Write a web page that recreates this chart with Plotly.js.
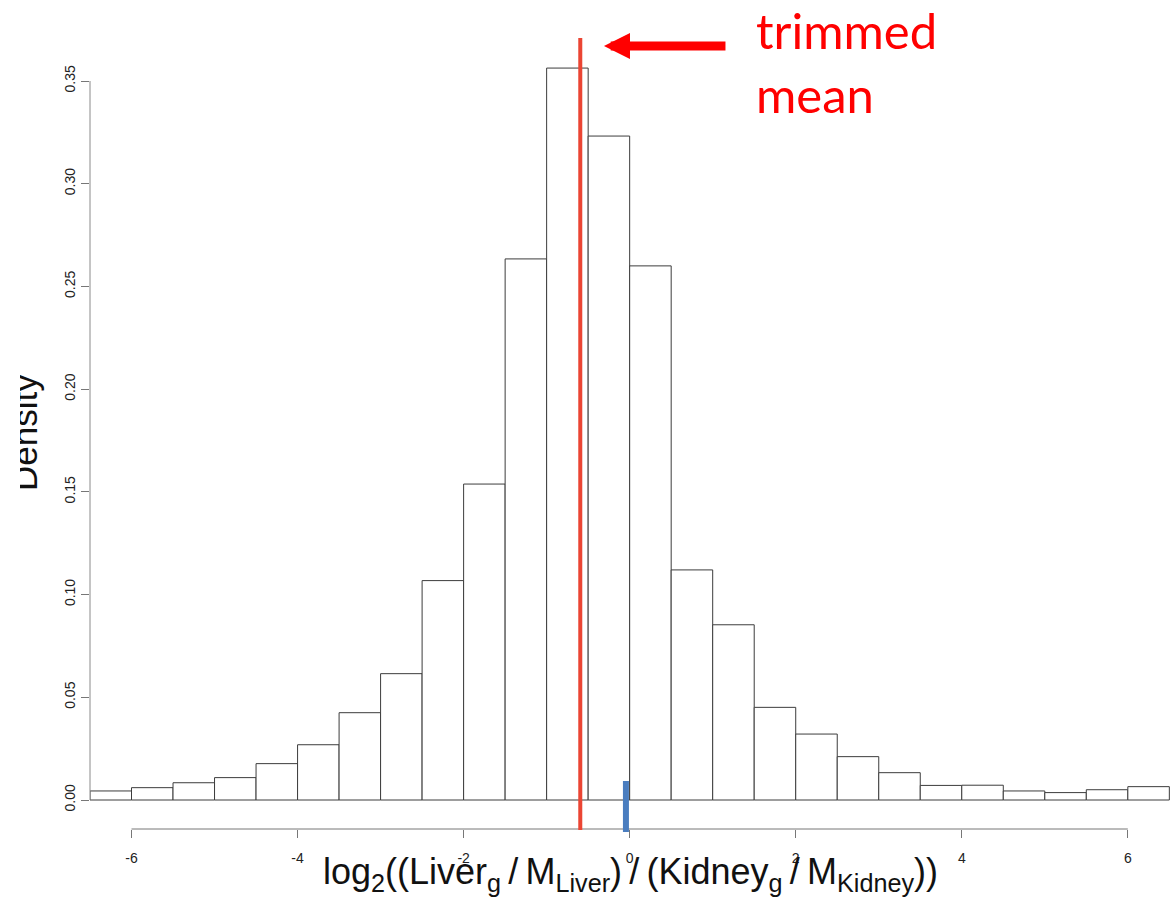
<!DOCTYPE html>
<html>
<head>
<meta charset="utf-8">
<script src="https://cdn.plot.ly/plotly-3.0.1.min.js"></script>
<style>
  html, body { margin: 0; padding: 0; background: #ffffff; }
  #wrap { position: absolute; left: 20px; top: 0; width: 1156px; height: 897px; overflow: hidden; }
  #chart { width: 1156px; height: 897px; }
</style>
</head>
<body>
<div id="wrap"><div id="chart"></div></div>
<script>
// Histogram bins (width 0.5), centers and density values
const binCenters = [-6.25, -5.75, -5.25, -4.75, -4.25, -3.75, -3.25, -2.75, -2.25, -1.75, -1.25, -0.75, -0.25,
                    0.25, 0.75, 1.25, 1.75, 2.25, 2.75, 3.25, 3.75, 4.25, 4.75, 5.25, 5.75, 6.25];
const density = [0.0044, 0.0060, 0.0084, 0.0109, 0.0177, 0.0269, 0.0425, 0.0615, 0.1068, 0.1538, 0.2634, 0.3563, 0.3232,
                 0.2600, 0.1120, 0.0853, 0.0451, 0.0321, 0.0211, 0.0133, 0.0071, 0.0072, 0.0044, 0.0036, 0.0050, 0.0065];
const binWidth = 0.5;

const xTickVals = [-6, -4, -2, 0, 2, 4, 6];
const xTickText = ['-6', '-4', '-2', '0', '2', '4', '6'];
const yTickVals = [0, 0.05, 0.10, 0.15, 0.20, 0.25, 0.30, 0.35];
const yTickText = ['0.00', '0.05', '0.10', '0.15', '0.20', '0.25', '0.30', '0.35'];

const trimmedMean = -0.595;   // red vertical line
const zeroMarker = -0.045;    // small blue marker near 0
const xAxisExtent = [-6, 6];
const yAxisExtent = [0, 0.35];

const font = 'Liberation Sans, Arial, Helvetica, sans-serif';
const thin = '\u2009';

const trace = {
  type: 'bar',
  x: binCenters,
  y: density,
  width: binWidth,
  marker: { color: '#ffffff', line: { color: '#3c3c3c', width: 1 } },
  hoverinfo: 'x+y',
  showlegend: false
};

const layout = {
  width: 1156,
  height: 897,
  margin: { l: 70, r: 5, t: 30, b: 68 },
  paper_bgcolor: '#ffffff',
  plot_bgcolor: '#ffffff',
  bargap: 0,
  showlegend: false,
  xaxis: {
    range: [-6.5, 6.52],
    showgrid: false, zeroline: false, showline: false,
    tickmode: 'array', tickvals: xTickVals, ticktext: xTickText,
    ticks: 'outside', ticklen: 8, tickwidth: 1, tickcolor: '#777777',
    ticklabelstandoff: 8,
    tickfont: { family: font, size: 14, color: '#222222' },
    title: {
      text: 'log<sub>2</sub>((Liver<sub>g</sub>' + thin + '/' + thin + 'M<sub>Liver</sub>)' + thin + '/' + thin +
            '(Kidney<sub>g</sub>' + thin + '/' + thin + 'M<sub>Kidney</sub>))',
      font: { family: font, size: 36, color: '#111111' },
      standoff: 7
    }
  },
  yaxis: {
    range: [-0.014117, 0.37483],
    showgrid: false, zeroline: false, showline: false,
    tickmode: 'array', tickvals: yTickVals, ticktext: yTickText,
    ticks: 'outside', ticklen: 8, tickwidth: 1, tickcolor: '#777777',
    tickangle: -90,
    tickfont: { family: font, size: 14, color: '#222222' }
  },
  shapes: [
    // y axis line (R style, only spanning the tick range)
    { type: 'line', xref: 'paper', x0: 0, x1: 0, yref: 'y', y0: yAxisExtent[0], y1: yAxisExtent[1],
      line: { color: '#8a8a8a', width: 1 }, layer: 'above' },
    // x axis line (R style, only spanning the tick range)
    { type: 'line', xref: 'x', x0: xAxisExtent[0], x1: xAxisExtent[1], yref: 'paper', y0: 0, y1: 0,
      line: { color: '#777777', width: 1 }, layer: 'above' },
    // trimmed mean line
    { type: 'line', xref: 'x', x0: trimmedMean, x1: trimmedMean, yref: 'paper', y0: -0.00125, y1: 0.99,
      line: { color: '#EB4533', width: 4 }, layer: 'above' },
    // blue marker
    { type: 'line', xref: 'x', x0: zeroMarker, x1: zeroMarker, yref: 'paper', y0: -0.00375, y1: 0.0601,
      line: { color: '#4A7DBF', width: 6 }, layer: 'above' }
  ],
  annotations: [
    // y-axis title, partly clipped at the left edge as in the source image
    { text: 'Density', xref: 'paper', yref: 'paper', x: -0.061, y: 0.4956, xanchor: 'center', yanchor: 'middle',
      textangle: -90, showarrow: false, font: { family: font, size: 35, color: '#111111' } },
    // arrow pointing to the trimmed mean
    { text: '', xref: 'x', yref: 'paper', x: -0.3095, y: 0.98, showarrow: true, axref: 'pixel', ayref: 'pixel',
      ax: 123, ay: 0, arrowcolor: '#FF0000', arrowwidth: 9, arrowhead: 2, arrowsize: 0.578, standoff: 0 },
    // label
    { text: 'trimmed<br>mean', xref: 'paper', yref: 'paper', x: 0.614, y: 1.039, xanchor: 'left', yanchor: 'top',
      align: 'left', showarrow: false, font: { family: 'Lato, Carlito, Calibri, sans-serif', size: 49, color: '#FF0000' } }
  ]
};

Plotly.newPlot('chart', [trace], layout, { displayModeBar: false, staticPlot: true });
</script>
</body>
</html>
